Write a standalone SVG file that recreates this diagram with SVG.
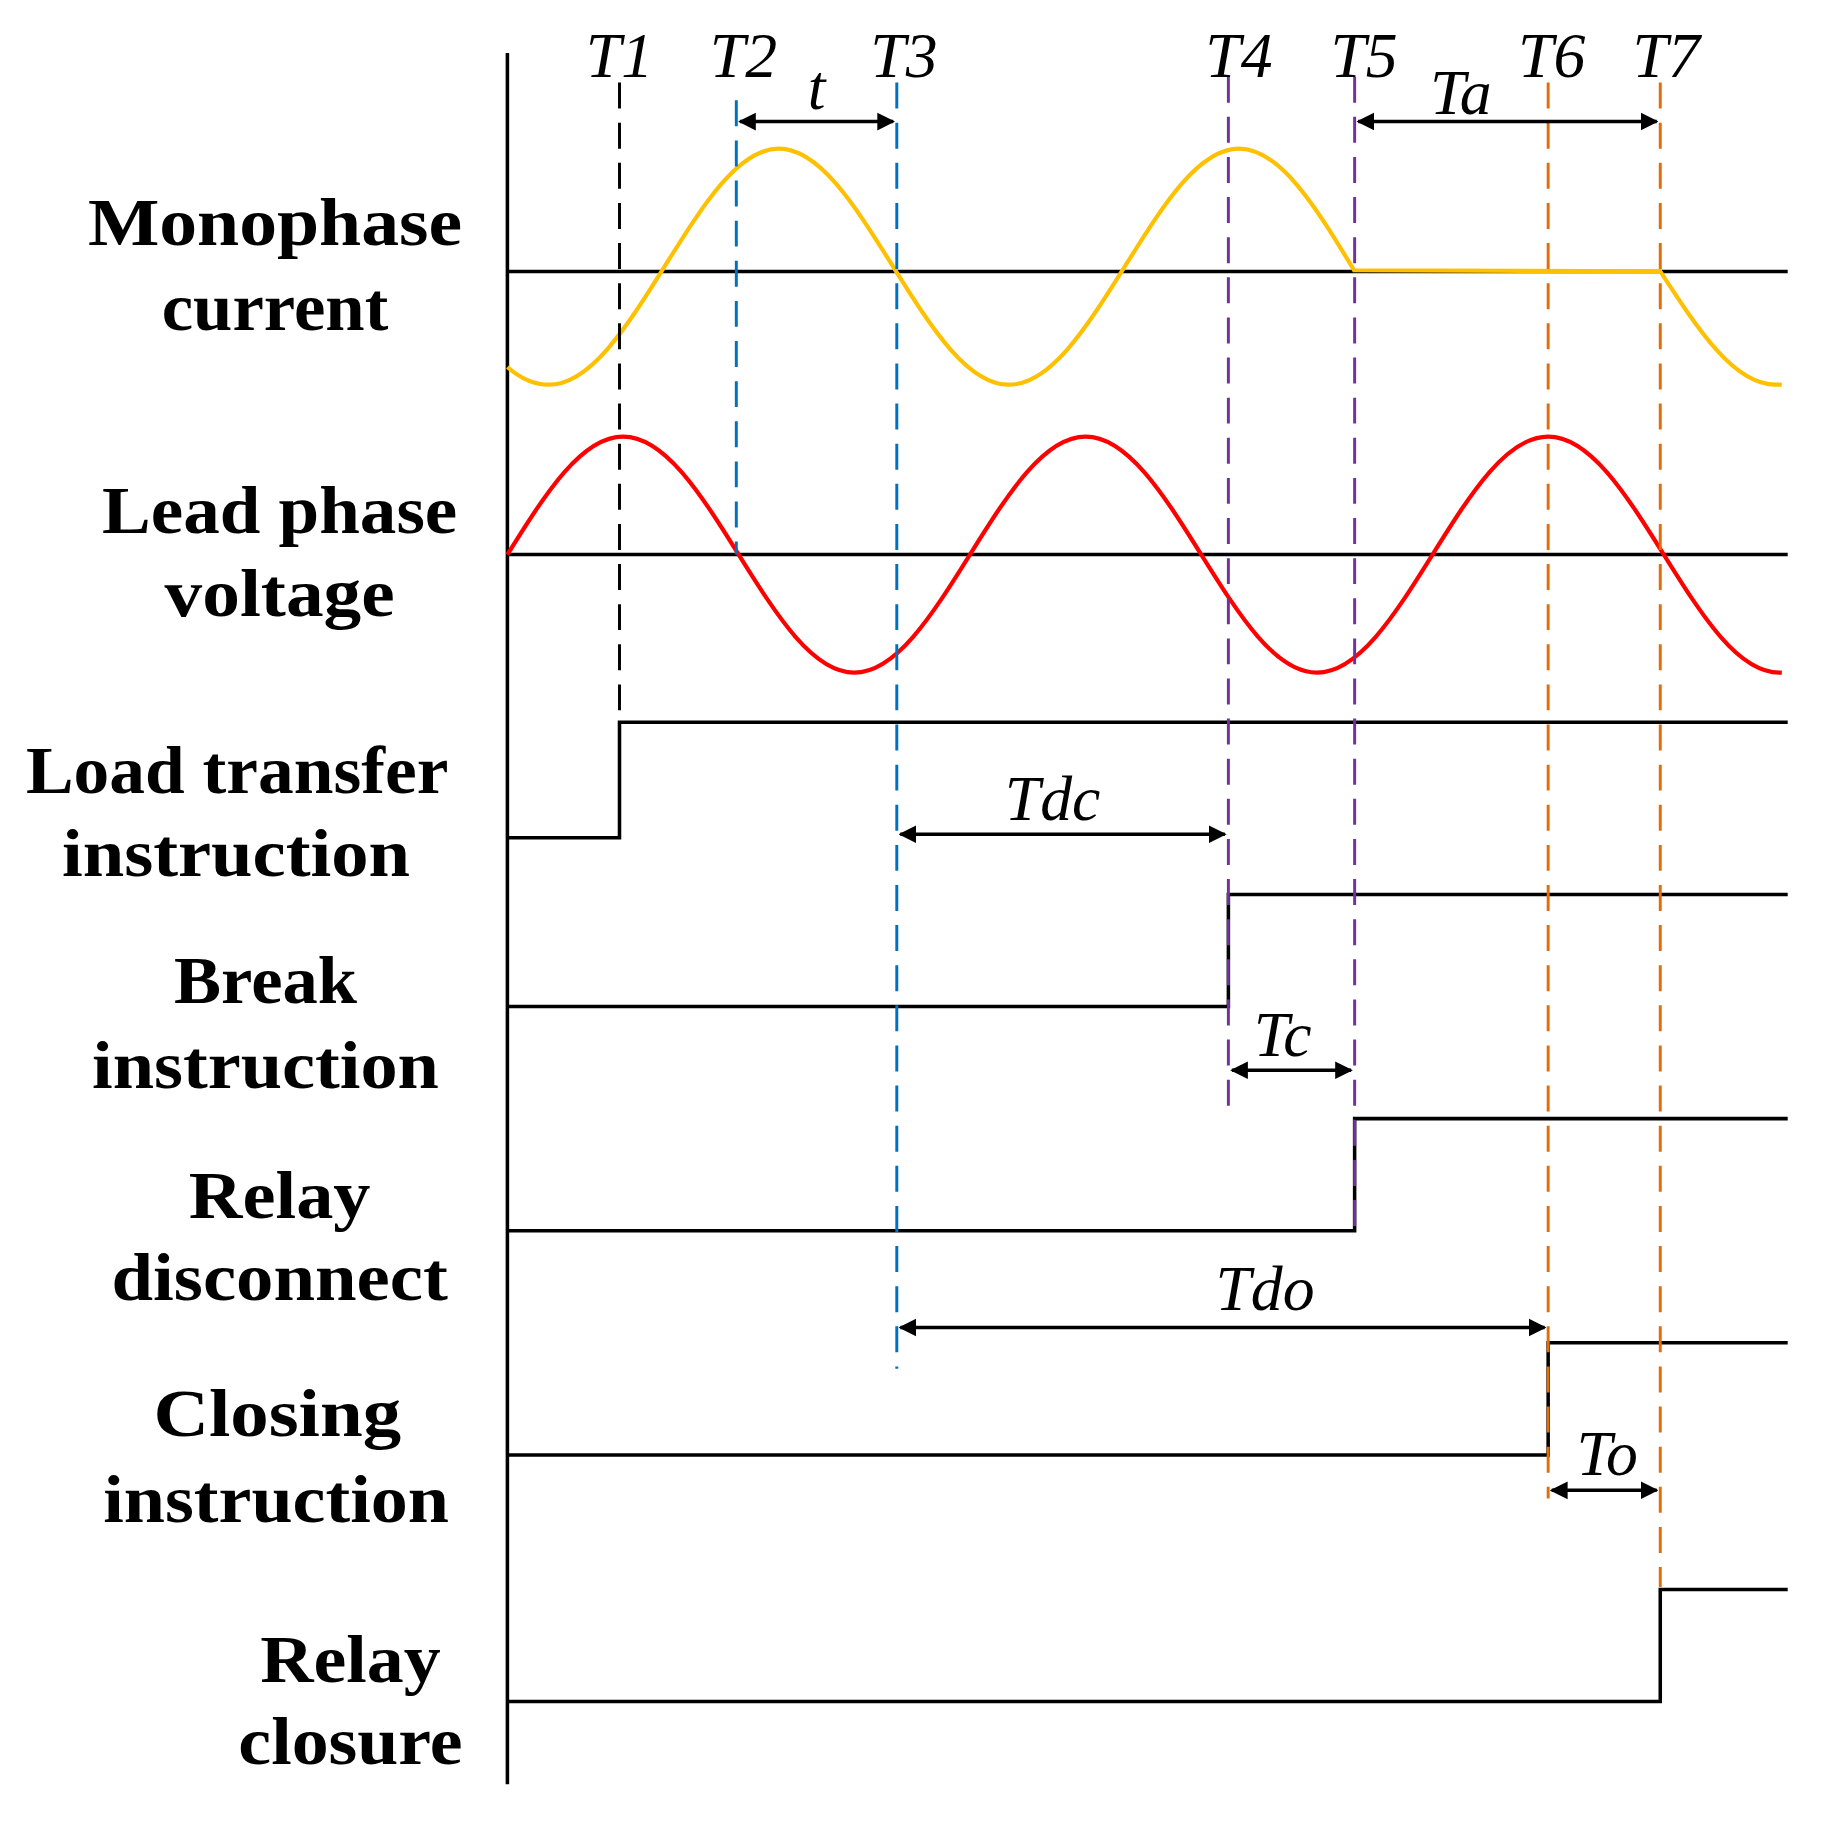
<svg xmlns="http://www.w3.org/2000/svg" width="1848" height="1822" viewBox="0 0 1848 1822">
<style>
.lab{font-family:"Liberation Serif",serif;font-weight:bold;font-size:58px;fill:#000;text-anchor:middle}
.it{font-family:"Liberation Serif",serif;font-style:italic;font-size:54px;fill:#000;text-anchor:middle}
.ln{stroke:#000;stroke-width:3;fill:none}
.dash{stroke-width:2.5;stroke-dasharray:22,12;fill:none}
.arr{stroke:#000;stroke-width:3;fill:none;marker-start:url(#ah);marker-end:url(#ah)}
</style>
<defs>
<marker id="ah" viewBox="0 0 10 10" refX="9" refY="5" markerWidth="5" markerHeight="6" orient="auto-start-reverse" markerUnits="strokeWidth"><path d="M0,0 L10,5 L0,10 Z" fill="#000"/></marker>
</defs>
<rect width="1848" height="1822" fill="#fff"/>
<g transform="scale(1.18)">
<g id="labels">
<text class="lab" x="233" y="208" textLength="317" lengthAdjust="spacingAndGlyphs">Monophase</text>
<text class="lab" x="233" y="280" textLength="192" lengthAdjust="spacingAndGlyphs">current</text>
<text class="lab" x="237" y="452" textLength="301" lengthAdjust="spacingAndGlyphs">Lead phase</text>
<text class="lab" x="237" y="522" textLength="195" lengthAdjust="spacingAndGlyphs">voltage</text>
<text class="lab" x="201" y="672" textLength="358" lengthAdjust="spacingAndGlyphs">Load transfer</text>
<text class="lab" x="200" y="742" textLength="295" lengthAdjust="spacingAndGlyphs">instruction</text>
<text class="lab" x="225" y="850" textLength="155" lengthAdjust="spacingAndGlyphs">Break</text>
<text class="lab" x="225" y="922" textLength="294" lengthAdjust="spacingAndGlyphs">instruction</text>
<text class="lab" x="237" y="1032" textLength="154" lengthAdjust="spacingAndGlyphs">Relay</text>
<text class="lab" x="237" y="1102" textLength="285" lengthAdjust="spacingAndGlyphs">disconnect</text>
<text class="lab" x="235" y="1217" textLength="210" lengthAdjust="spacingAndGlyphs">Closing</text>
<text class="lab" x="234" y="1290" textLength="293" lengthAdjust="spacingAndGlyphs">instruction</text>
<text class="lab" x="297" y="1425" textLength="153" lengthAdjust="spacingAndGlyphs">Relay</text>
<text class="lab" x="297" y="1495" textLength="190" lengthAdjust="spacingAndGlyphs">closure</text>
</g>
<g id="axes">
<line class="ln" x1="430" y1="45" x2="430" y2="1512" stroke-width="2.5"/>
<line class="ln" x1="430" y1="230" x2="1515" y2="230"/>
<line class="ln" x1="430" y1="470" x2="1515" y2="470"/>
</g>
<g id="waves">
<path fill="none" stroke="#ffc000" stroke-width="3.5" d="M430,311 Q447,326 465,326 c34.9,0 64.9,-47 97.5,-99 c32.6,-52 62.6,-101 97.5,-101 c34.9,0 64.9,49 97.5,101 c32.6,52 62.6,99 97.5,99 c34.9,0 64.9,-47 97.5,-99 c32.6,-52 62.6,-101 97.5,-101 c34.9,0 64.9,49 97.5,103 L1407,230 c32.6,50 62.6,96 97.5,96 L1510,326"/>
<path fill="none" stroke="#ff0000" stroke-width="3.5" d="M430,470 c32.8,-52.5 62.9,-100 98,-100 c35.1,0 65.2,47.5 98,100 c32.8,52.5 62.9,100 98,100 c35.1,0 65.2,-47.5 98,-100 c32.8,-52.5 62.9,-100 98,-100 c35.1,0 65.2,47.5 98,100 c32.8,52.5 62.9,100 98,100 c35.1,0 65.2,-47.5 98,-100 c32.8,-52.5 62.9,-100 98,-100 c35.1,0 65.2,47.5 98,100 c32.8,52.5 62.9,100 98,100 L1510,570"/>
</g>
<g id="signals">
<polyline class="ln" points="430,710 525,710 525,612 1515,612"/>
<polyline class="ln" points="430,853 1041,853 1041,758 1515,758"/>
<polyline class="ln" points="430,1043 1148,1043 1148,948 1515,948"/>
<polyline class="ln" points="430,1233 1312,1233 1312,1138 1515,1138"/>
<polyline class="ln" points="430,1442 1407,1442 1407,1347 1515,1347"/>
</g>
<g id="markers">
<line class="dash" stroke="#000" x1="525" y1="70" x2="525" y2="610"/>
<line class="dash" stroke="#0070c0" x1="624" y1="85" x2="624" y2="470"/>
<line class="dash" stroke="#0070c0" x1="760" y1="70" x2="760" y2="1160"/>
<line class="dash" stroke="#7030a0" x1="1041" y1="65" x2="1041" y2="945"/>
<line class="dash" stroke="#7030a0" x1="1148" y1="65" x2="1148" y2="1040"/>
<line class="dash" stroke="#e46c0a" x1="1312" y1="70" x2="1312" y2="1270"/>
<line class="dash" stroke="#e46c0a" x1="1407" y1="70" x2="1407" y2="1345"/>
<text class="it" x="525" y="65">T1</text>
<text class="it" x="630" y="65">T2</text>
<text class="it" x="766" y="65">T3</text>
<text class="it" x="1050" y="65">T4</text>
<text class="it" x="1156" y="65">T5</text>
<text class="it" x="1315" y="65">T6</text>
<text class="it" x="1412" y="65">T7</text>
</g>
<g id="connectors">
<line class="arr" x1="627" y1="103" x2="757" y2="103"/>
<line class="arr" x1="1151" y1="103" x2="1404" y2="103"/>
<line class="arr" x1="763" y1="707" x2="1038" y2="707"/>
<line class="arr" x1="1044" y1="907" x2="1145" y2="907"/>
<line class="arr" x1="763" y1="1125" x2="1309" y2="1125"/>
<line class="arr" x1="1315" y1="1263" x2="1404" y2="1263"/>
<text class="it" x="692" y="92">t</text>
<text class="it" x="1238" y="97">Ta</text>
<text class="it" x="892" y="695">Tdc</text>
<text class="it" x="1087" y="895">Tc</text>
<text class="it" x="1072" y="1110">Tdo</text>
<text class="it" x="1362" y="1250">To</text>
</g>
</g>
</svg>
